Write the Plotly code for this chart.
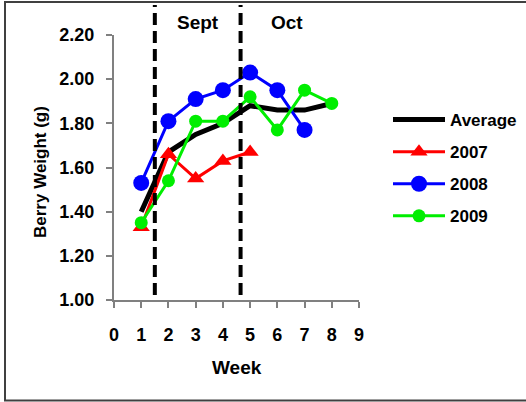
import plotly.graph_objects as go

# Berry weight by week of harvest season
weeks = [1, 2, 3, 4, 5, 6, 7, 8]
average = [1.40, 1.67, 1.75, 1.80, 1.88, 1.86, 1.86, 1.89]
weeks_2007 = [1, 2, 3, 4, 5]
y2007 = [1.33, 1.66, 1.55, 1.63, 1.67]
weeks_2008 = [1, 2, 3, 4, 5, 6, 7]
y2008 = [1.53, 1.81, 1.91, 1.95, 2.03, 1.95, 1.77]
y2009 = [1.35, 1.54, 1.81, 1.81, 1.92, 1.77, 1.95, 1.89]

# Month boundaries (in weeks) and month labels
month_breaks = [1.5, 4.65]
month_labels = ["Sept", "Oct"]
month_label_pos = [3.1, 6.35]

y_ticks = [1.0, 1.2, 1.4, 1.6, 1.8, 2.0, 2.2]
x_ticks = list(range(0, 10))

W, H = 526, 402
L, R, T, B = 114, 167, 35, 102
PW, PH = W - L - R, H - T - B


def px(x):
    return (x - L) / PW


def py(y):
    return (H - B - y) / PH


FONT = "Liberation Sans, Arial, sans-serif"

fig = go.Figure()
fig.add_trace(go.Scatter(x=weeks, y=average, name="Average", mode="lines",
                         line=dict(color="black", width=5),
                         legendgroup="a"))
fig.add_trace(go.Scatter(x=weeks_2007, y=y2007, name="2007", mode="lines+markers",
                         line=dict(color="#ff0000", width=3),
                         marker=dict(symbol="triangle-up", size=15, color="#ff0000"),
                         legendgroup="b"))
fig.add_trace(go.Scatter(x=weeks_2008, y=y2008, name="2008", mode="lines+markers",
                         line=dict(color="#0000ff", width=3),
                         marker=dict(symbol="circle", size=16, color="#0000ff"),
                         legendgroup="c"))
fig.add_trace(go.Scatter(x=weeks, y=y2009, name="2009", mode="lines+markers",
                         line=dict(color="#00ee00", width=3),
                         marker=dict(symbol="circle", size=13, color="#00ee00"),
                         legendgroup="d"))

shapes = []
for xb in month_breaks:
    shapes.append(dict(type="line", xref="x", yref="paper", x0=xb, x1=xb,
                       y0=py(295), y1=py(5),
                       line=dict(color="black", width=4, dash="12px,6px")))
# outer frame
shapes.append(dict(type="rect", xref="paper", yref="paper",
                   x0=px(5), x1=px(527), y0=py(400.5), y1=py(2),
                   line=dict(color="#404040", width=2)))

annotations = []
for lab, xp in zip(month_labels, month_label_pos):
    annotations.append(dict(text=f"<b>{lab}</b>", x=xp, xref="x", y=py(22), yref="paper",
                            showarrow=False, font=dict(family=FONT, size=19, color="black"),
                            xanchor="center", yanchor="middle"))
annotations.append(dict(text="<b>Week</b>", x=px(237), y=py(367), xref="paper", yref="paper",
                        showarrow=False, font=dict(family=FONT, size=19, color="black"),
                        xanchor="center", yanchor="middle"))
annotations.append(dict(text="<b>Berry Weight (g)</b>", x=px(40), y=py(172), xref="paper",
                        yref="paper", showarrow=False, textangle=-90,
                        font=dict(family=FONT, size=17, color="black"),
                        xanchor="center", yanchor="middle"))

fig.update_layout(
    width=W, height=H,
    margin=dict(l=L, r=R, t=T, b=B, autoexpand=False),
    paper_bgcolor="white", plot_bgcolor="white",
    font=dict(family=FONT, color="black"),
    shapes=shapes,
    annotations=annotations,
    showlegend=True,
    legend=dict(x=px(388), y=py(102), xanchor="left", yanchor="top",
                font=dict(family=FONT, size=17, color="black", weight="bold"),
                itemwidth=52, traceorder="grouped", tracegroupgap=7,
                bgcolor="rgba(0,0,0,0)"),
    xaxis=dict(range=[0, 9], tickvals=x_ticks, showgrid=False, zeroline=False,
               showline=True, linecolor="#808080", linewidth=2,
               ticks="outside", ticklen=6, tickcolor="#808080", tickwidth=1.5,
               tickfont=dict(family=FONT, size=18, color="black", weight="bold"),
               ticklabelstandoff=11),
    yaxis=dict(range=[1.0, 2.2], tickvals=y_ticks, tickformat=".2f", showgrid=False,
               zeroline=False, showline=True, linecolor="#808080", linewidth=2,
               ticks="outside", ticklen=6, tickcolor="#808080", tickwidth=1.5,
               tickfont=dict(family=FONT, size=18, color="black", weight="bold"),
               ticklabelstandoff=8),
)

fig.write_html("out.html")
